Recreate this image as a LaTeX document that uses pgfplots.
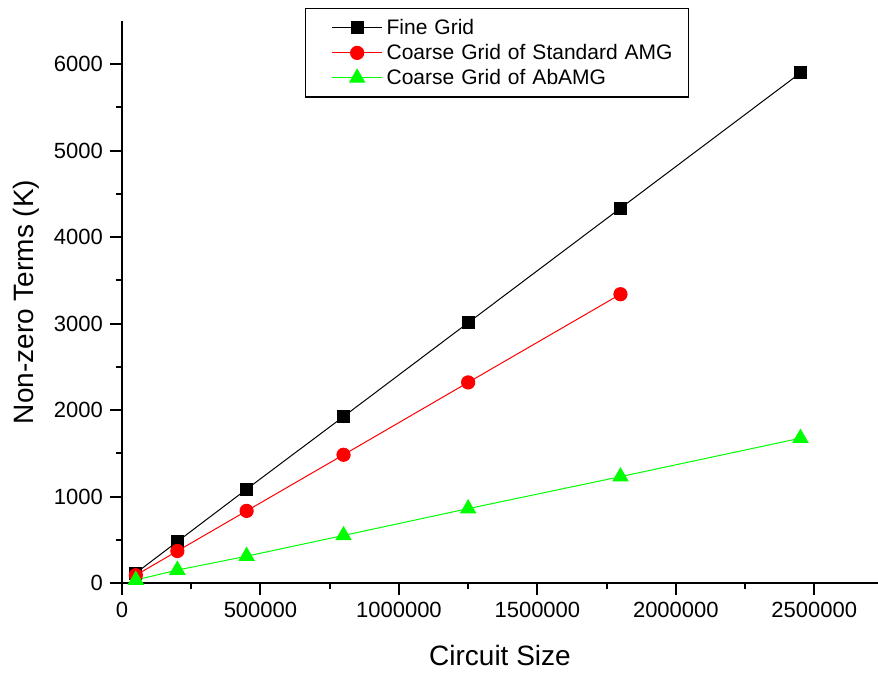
\documentclass[border=0pt]{standalone}
\usepackage{fontspec}
\setmainfont{Liberation Sans}
\usepackage{pgfplots}
\pgfplotsset{compat=1.18}
\definecolor{pred}{RGB}{255,0,0}
\definecolor{pgreen}{RGB}{0,255,0}

\begin{document}
\begin{tikzpicture}
\begin{axis}[
  scale only axis,
  width=378pt, height=281pt,
  xmin=0, xmax=2730000,
  ymin=0, ymax=6500,
  axis x line*=bottom,
  axis y line*=left,
  axis line style={line width=1pt, -},
  tick align=outside,
  major tick length=6pt,
  minor tick length=3pt,
  every tick/.style={black, line width=1pt},
  xtick={0,500000,1000000,1500000,2000000,2500000},
  ytick={0,1000,2000,3000,4000,5000,6000},
  minor x tick num=1,
  minor y tick num=1,
  scaled x ticks=false,
  scaled y ticks=false,
  /pgf/number format/assume math mode=true,
  /pgf/number format/fixed,
  /pgf/number format/1000 sep={},
  tick label style={font=\fontsize{11}{13}\selectfont},
  xlabel={Circuit Size},
  ylabel={Non-zero Terms (K)},
  label style={font=\fontsize{14}{16}\selectfont},
  xlabel style={at={(axis description cs:0.5,-0.146)}, anchor=base},
  ylabel style={at={(axis description cs:-0.127,0.5)}, anchor=center},
  clip=false,
  legend style={
    at={(rel axis cs:0.242,1.023)}, anchor=north west,
    draw=black, line width=0.7pt,
    font=\fontsize{10.5}{12}\selectfont,
    cells={anchor=west},
    row sep=-0.6pt,
    inner xsep=6pt, inner ysep=3pt,
    text width=143pt,
  },
  legend image code/.code={
    \path (0pt,0pt);
    \draw[mark repeat=2, mark phase=2]
      plot coordinates {(7pt,0pt) (19.5pt,0pt) (32pt,0pt)};
  },
]
\coordinate (O) at (rel axis cs:0,0);
\addplot[black, line width=0.5pt, mark=square*, mark size=3pt,
  mark options={solid, fill=black}] coordinates {
  (50000,115) (200000,479) (450000,1085) (800000,1925)
  (1250000,3010) (1800000,4335) (2450000,5900)
};
\addlegendentry{Fine Grid}
\addplot[pred, line width=0.5pt, mark=*, mark size=3.3pt,
  mark options={solid, fill=pred}] coordinates {
  (50000,90) (200000,370) (450000,834) (800000,1483)
  (1250000,2320) (1800000,3340)
};
\addlegendentry{Coarse Grid of Standard AMG}
\addplot[pgreen, line width=0.5pt, mark=triangle*, mark size=4.3pt,
  mark options={solid, fill=pgreen}] coordinates {
  (50000,35) (200000,150) (450000,310) (800000,550)
  (1250000,860) (1800000,1230) (2450000,1675)
};
\addlegendentry{Coarse Grid of AbAMG}
\end{axis}
\pgfresetboundingbox
\useasboundingbox ([xshift=-61pt,yshift=-45.5pt]O) rectangle ([xshift=378pt,yshift=291.5pt]O);
\end{tikzpicture}
\end{document}
